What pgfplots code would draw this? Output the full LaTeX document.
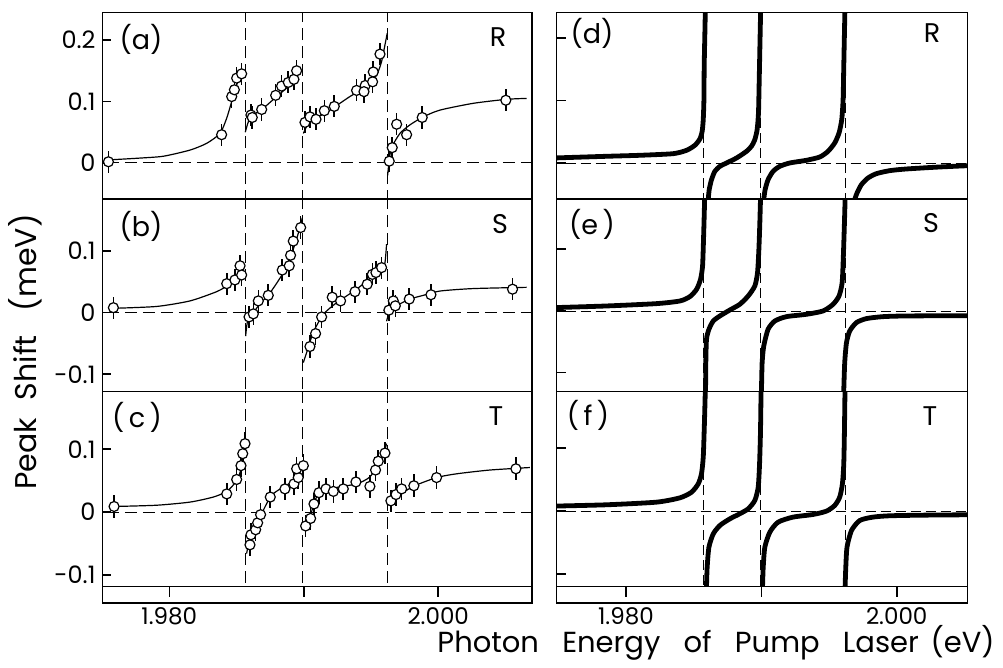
\documentclass[border=0pt]{standalone}
\usepackage{fontspec}
\setmainfont{Poppins}
\usepackage{pgfplots}
\usepackage{pgfplotstable}
\pgfplotsset{compat=1.18}

% measured points, E (eV) vs peak shift (meV)
\pgfplotstableread{
x y
1.97547 0.002
1.98389 0.046
1.98464 0.108
1.98484 0.119
1.98501 0.138
1.98538 0.145
1.98607 0.078
1.98617 0.074
1.98687 0.087
1.98791 0.110
1.98835 0.125
1.98885 0.131
1.98927 0.136
1.98947 0.150
1.99009 0.066
1.99046 0.075
1.99091 0.071
1.99153 0.085
1.99227 0.092
1.99393 0.118
1.99457 0.126
1.99448 0.116
1.99512 0.132
1.99517 0.148
1.99567 0.177
1.99636 0.003
1.99658 0.025
1.99691 0.063
1.99765 0.046
1.99881 0.074
2.00503 0.102
}\ptsA
\pgfplotstableread{
x y
1.97584 0.008
1.98427 0.047
1.98488 0.053
1.98526 0.076
1.98538 0.061
1.98593 -0.007
1.98625 -0.002
1.98662 0.019
1.98736 0.028
1.98840 0.069
1.98892 0.076
1.98902 0.093
1.98922 0.116
1.98977 0.138
1.99046 -0.055
1.99088 -0.034
1.99133 -0.007
1.99212 0.025
1.99274 0.019
1.99381 0.034
1.99472 0.046
1.99510 0.062
1.99537 0.065
1.99579 0.073
1.99633 0.004
1.99666 0.019
1.99681 0.011
1.99785 0.022
1.99946 0.029
2.00553 0.038
}\ptsB
\pgfplotstableread{
x y
1.97589 0.009
1.98427 0.029
1.98501 0.052
1.98533 0.074
1.98546 0.093
1.98563 0.109
1.98600 -0.052
1.98607 -0.036
1.98642 -0.028
1.98657 -0.017
1.98679 -0.004
1.98751 0.024
1.98860 0.037
1.98927 0.045
1.98959 0.055
1.98947 0.069
1.98997 0.074
1.99014 -0.022
1.99051 -0.010
1.99076 0.013
1.99113 0.031
1.99165 0.037
1.99220 0.033
1.99294 0.037
1.99388 0.048
1.99492 0.041
1.99534 0.067
1.99554 0.081
1.99604 0.094
1.99648 0.018
1.99686 0.028
1.99728 0.037
1.99819 0.042
1.99988 0.055
2.00578 0.069
}\ptsC

\pgfplotsset{
  panel/.style={
    scale only axis, anchor=south west,
    axis line style={line width=0.9pt},
    xtick=\empty, ytick pos=left, tick align=inside,
    major tick length=4.5pt,
    every tick/.style={black, line width=0.8pt},
    yticklabel style={font=\fontsize{12}{12}\selectfont},
    /pgf/number format/assume math mode=true,
  },
  L/.style={panel, xmin=1.97503, xmax=2.00700, width=214.9pt},
  R/.style={panel, xmin=1.97487, xmax=2.00523, width=205.5pt, yticklabels={}},
  strip/.style={
    scale only axis, anchor=south west, height=8.25pt,
    axis line style={line width=0.9pt},
    ymin=0, ymax=1, ytick=\empty,
    xtick={1.98,1.99,2.00}, xticklabels={1.980,,2.000},
    xtick pos=right, xticklabel pos=left, tick align=inside,
    major tick length=5.5pt,
    every tick/.style={black, line width=0.8pt},
    xticklabel style={font=\fontsize{11.5}{11.5}\selectfont, inner sep=0.5pt, yshift=-1.5pt},
    /pgf/number format/assume math mode=true,
  },
  guideL/.style={black, line width=0.5pt, dash pattern=on 6pt off 3pt, mark=none},
  guideR/.style={black, line width=0.45pt, dash pattern=on 5pt off 2.5pt, mark=none},
  fit/.style={black, line width=0.6pt, smooth, tension=0.4, mark=none},
  theory/.style={black, line width=2.4pt, smooth, tension=0.4, mark=none, line cap=round, line join=round},
  bars/.style={only marks, mark=none, error bars/.cd, y dir=both, y fixed=0.018,
    error mark=none, error bar style={black, solid, line width=0.8pt}},
  pts/.style={only marks, mark=*, mark size=2.5pt,
    mark options={fill=white, draw=black, line width=0.6pt}},
}

\newcommand{\guides}[1]{%
  \addplot[#1] coordinates {(1.97,0) (2.01,0)};
  \addplot[#1] coordinates {(1.9857,-1) (1.9857,1)};
  \addplot[#1] coordinates {(1.9899,-1) (1.9899,1)};
  \addplot[#1] coordinates {(1.9962,-1) (1.9962,1)};
}

\begin{document}
\begin{tikzpicture}
\path[use as bounding box] (0,0) rectangle (501.5pt,334pt);

% ---------- (a) ----------
\begin{axis}[L, at={(51.25pt,234.5pt)}, height=93.25pt,
  ymin=-0.0585, ymax=0.2447, ytick={0,0.1,0.2}, yticklabels={0,0.1,0.2}]
\guides{guideL}
\addplot[fit] coordinates {(1.97547,0.005) (1.97782,0.008) (1.97956,0.011) (1.98154,0.021) (1.98278,0.032) (1.98377,0.048) (1.98427,0.073) (1.98464,0.100) (1.98501,0.127) (1.98530,0.143)};
\addplot[fit] coordinates {(1.98565,0.050) (1.98588,0.067) (1.98625,0.078) (1.98699,0.089) (1.98798,0.108) (1.98897,0.127) (1.98972,0.151)};
\addplot[fit] coordinates {(1.98997,0.048) (1.99021,0.059) (1.99071,0.070) (1.99195,0.086) (1.99343,0.108) (1.99467,0.124) (1.99542,0.143) (1.99579,0.165) (1.99604,0.192) (1.99621,0.211)};
\addplot[fit] coordinates {(1.99624,-0.020) (1.99636,0.005) (1.99653,0.025) (1.99715,0.048) (1.99790,0.062) (1.99889,0.075) (2.00013,0.086) (2.00260,0.097) (2.00508,0.1035) (2.00657,0.105)};
\addplot[bars] table {\ptsA};
\addplot[pts] table {\ptsA};
\end{axis}

% ---------- (b) ----------
\begin{axis}[L, at={(51.25pt,138.25pt)}, height=96.25pt,
  ymin=-0.1279, ymax=0.1843, ytick={-0.1,0,0.1}, yticklabels={-0.1,0,0.1}]
\guides{guideL}
\addplot[fit] coordinates {(1.97584,0.007) (1.97906,0.010) (1.98154,0.019) (1.98352,0.034) (1.98451,0.046) (1.98526,0.058) (1.98560,0.066)};
\addplot[fit] coordinates {(1.98568,-0.038) (1.98580,-0.016) (1.98612,-0.004) (1.98674,0.014) (1.98749,0.032) (1.98848,0.065) (1.98922,0.103) (1.98972,0.138) (1.98989,0.154)};
\addplot[fit] coordinates {(1.98997,-0.081) (1.99021,-0.065) (1.99071,-0.032) (1.99145,-0.003) (1.99244,0.016) (1.99393,0.038) (1.99517,0.060) (1.99579,0.073) (1.99604,0.081) (1.99616,0.111)};
\addplot[fit] coordinates {(1.99616,-0.014) (1.99633,-0.003) (1.99691,0.011) (1.99790,0.022) (1.99889,0.028) (2.00013,0.035) (2.00260,0.039) (2.00657,0.041)};
\addplot[bars] table {\ptsB};
\addplot[pts] table {\ptsB};
\end{axis}

% ---------- (c) ----------
\begin{axis}[L, at={(51.25pt,40.75pt)}, height=97.5pt,
  ymin=-0.1183, ymax=0.192, ytick={-0.1,0,0.1}, yticklabels={-0.1,0,0.1}]
\guides{guideL}
\addplot[fit] coordinates {(1.97589,0.009) (1.97906,0.011) (1.98154,0.016) (1.98327,0.024) (1.98427,0.033) (1.98501,0.050) (1.98538,0.072) (1.98563,0.103)};
\addplot[fit] coordinates {(1.98575,-0.066) (1.98600,-0.040) (1.98650,-0.019) (1.98699,0.003) (1.98761,0.027) (1.98848,0.040) (1.98922,0.050) (1.98972,0.069)};
\addplot[fit] coordinates {(1.99004,-0.029) (1.99046,-0.008) (1.99096,0.024) (1.99195,0.037) (1.99393,0.045) (1.99492,0.056) (1.99554,0.077) (1.99591,0.090) (1.99616,0.109)};
\addplot[fit] coordinates {(1.99628,0.011) (1.99691,0.024) (1.99815,0.041) (1.99988,0.055) (2.00137,0.061) (2.00384,0.067) (2.00682,0.071)};
\addplot[bars] table {\ptsC};
\addplot[pts] table {\ptsC};
\end{axis}

\begin{axis}[strip, at={(51.25pt,32.5pt)}, width=214.9pt, xmin=1.97503, xmax=2.00700]
\addplot[draw=none] coordinates {(1.98,0.5)};
\end{axis}

% ---------- (d) ----------
\begin{axis}[R, at={(278.25pt,234.5pt)}, height=93.25pt,
  ymin=-0.0576, ymax=0.2408, ytick={0,0.1,0.2}]
\guides{guideR}
\addplot[theory] coordinates {(1.97470,0.008) (1.97857,0.0107) (1.98103,0.0123) (1.98349,0.0149) (1.98448,0.0203) (1.98509,0.0283) (1.98546,0.0384) (1.98563,0.0507) (1.98571,0.0693) (1.98576,0.1013) (1.98578,0.1547) (1.98583,0.208) (1.98588,0.2613)};
\addplot[theory] coordinates {(1.98606,-0.07) (1.98608,-0.0587) (1.98615,-0.0427) (1.98632,-0.0267) (1.98657,-0.0133) (1.98694,-0.0053) (1.98743,0) (1.98817,0.008) (1.98891,0.0187) (1.98927,0.0267) (1.98952,0.0373) (1.98969,0.0533) (1.98979,0.08) (1.98984,0.128) (1.98989,0.1813) (1.98994,0.2347) (1.98996,0.2613)};
\addplot[theory] coordinates {(1.99016,-0.07) (1.99018,-0.0587) (1.99028,-0.0427) (1.99050,-0.0267) (1.99087,-0.0133) (1.99137,-0.0053) (1.99210,0) (1.99333,0.0043) (1.99432,0.0096) (1.99493,0.0187) (1.99542,0.032) (1.99574,0.048) (1.99594,0.0693) (1.99604,0.1013) (1.99609,0.1547) (1.99614,0.208) (1.99619,0.2613)};
\addplot[theory] coordinates {(1.99685,-0.07) (1.99690,-0.0587) (1.99707,-0.048) (1.99739,-0.0347) (1.99788,-0.024) (1.99850,-0.0171) (1.99948,-0.0123) (2.00071,-0.0096) (2.00317,-0.0064) (2.00530,-0.0043)};
\end{axis}

% ---------- (e) ----------
\begin{axis}[R, at={(278.25pt,138.25pt)}, height=96.25pt,
  ymin=-0.1305, ymax=0.1815, ytick={-0.1,0,0.1}]
\guides{guideR}
\addplot[theory] coordinates {(1.97470,0.0054) (1.97857,0.0081) (1.98226,0.0119) (1.98399,0.0162) (1.98472,0.0232) (1.98522,0.0351) (1.98551,0.0514) (1.98566,0.073) (1.98573,0.1162) (1.98578,0.154) (1.98583,0.197)};
\addplot[theory] coordinates {(1.98587,-0.14) (1.98588,-0.1286) (1.98590,-0.0838) (1.98595,-0.0459) (1.98613,-0.0297) (1.98645,-0.0162) (1.98694,-0.0081) (1.98768,0.0016) (1.98841,0.0108) (1.98903,0.0243) (1.98952,0.0405) (1.98972,0.0622) (1.98982,0.1) (1.98989,0.1432) (1.98996,0.1973)};
\addplot[theory] coordinates {(1.99000,-0.14) (1.99001,-0.1286) (1.99006,-0.0838) (1.99018,-0.0568) (1.99050,-0.0297) (1.99100,-0.0162) (1.99186,-0.0092) (1.99333,-0.0054) (1.99456,0) (1.99530,0.0108) (1.99574,0.0243) (1.99597,0.0459) (1.99606,0.0892) (1.99614,0.1432) (1.99621,0.1973)};
\addplot[theory] coordinates {(1.99608,-0.14) (1.99609,-0.1286) (1.99616,-0.0838) (1.99629,-0.0514) (1.99653,-0.0324) (1.99702,-0.0189) (1.99776,-0.0124) (1.99899,-0.0092) (2.00071,-0.0081) (2.00530,-0.0076)};
\end{axis}

% ---------- (f) ----------
\begin{axis}[R, at={(278.25pt,40.75pt)}, height=97.5pt,
  ymin=-0.1199, ymax=0.1904, ytick={-0.1,0,0.1}]
\guides{guideR}
\addplot[theory] coordinates {(1.97470,0.008) (1.97857,0.0101) (1.98226,0.0143) (1.98399,0.0212) (1.98485,0.0302) (1.98534,0.0435) (1.98558,0.0594) (1.98571,0.0859) (1.98578,0.1284) (1.98583,0.1655) (1.98588,0.208)};
\addplot[theory] coordinates {(1.98594,-0.135) (1.98595,-0.1199) (1.98600,-0.0891) (1.98613,-0.0573) (1.98645,-0.0361) (1.98694,-0.0228) (1.98768,-0.0122) (1.98841,-0.0042) (1.98903,0.0037) (1.98952,0.017) (1.98977,0.0382) (1.98987,0.0753) (1.98994,0.1284) (1.98999,0.208)};
\addplot[theory] coordinates {(1.99008,-0.135) (1.99009,-0.1199) (1.99014,-0.0891) (1.99026,-0.0573) (1.99063,-0.0334) (1.99124,-0.0175) (1.99235,-0.0095) (1.99383,-0.0053) (1.99481,0) (1.99542,0.009) (1.99579,0.0223) (1.99599,0.0435) (1.99609,0.0753) (1.99614,0.1284) (1.99619,0.208)};
\addplot[theory] coordinates {(1.99618,-0.135) (1.99619,-0.1199) (1.99624,-0.0891) (1.99633,-0.0573) (1.99666,-0.0308) (1.99727,-0.0149) (1.99825,-0.0095) (1.99948,-0.0074) (2.00194,-0.0064) (2.00530,-0.0058)};
\end{axis}

\begin{axis}[strip, at={(278.25pt,32.5pt)}, width=205.5pt, xmin=1.97487, xmax=2.00523]
\addplot[draw=none] coordinates {(1.98,0.5)};
\end{axis}

% panel labels
\begin{scope}[every node/.style={font=\fontsize{13.5}{13.5}\selectfont, inner sep=0pt}]
\node at (70.5pt,314.5pt) {(a)};
\node at (249pt,315.5pt) {R};
\node at (70.5pt,221pt) {(b)};
\node at (250pt,222pt) {S};
\node at (68.5pt,125.5pt) {(\,c\,)};
\node at (248pt,126pt) {T};
\node at (296pt,317.5pt) {(d)};
\node at (466pt,317.5pt) {R};
\node at (296pt,222pt) {(e\,)};
\node at (465.5pt,222.5pt) {S};
\node at (294pt,126.5pt) {(\,f\,)};
\node at (465pt,126pt) {T};
\end{scope}

% axis titles
\node[font=\fontsize{14.5}{14.5}\selectfont, inner sep=0pt, anchor=base] at (358pt,7.5pt)
  {Photon\hspace{0.8em}Energy\hspace{0.8em}of\hspace{0.8em}Pump\hspace{0.8em}Laser\hspace{0.4em}(eV)};
\node[font=\fontsize{15}{15}\selectfont, inner sep=0pt, rotate=90] at (12.5pt,158pt)
  {Peak\hspace{0.6em}Shift\hspace{0.8em}(meV)};
\end{tikzpicture}
\end{document}
